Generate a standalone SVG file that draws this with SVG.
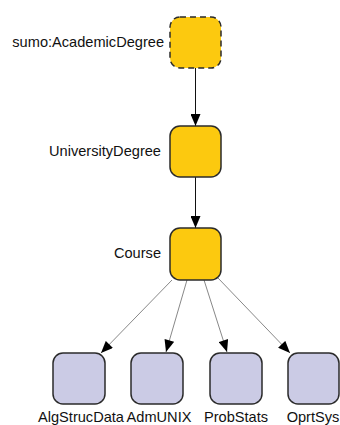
<svg xmlns="http://www.w3.org/2000/svg" width="340" height="425" viewBox="0 0 340 425">
<defs>
<marker id="arr" viewBox="0 0 12 10" refX="12" refY="5" markerWidth="13" markerHeight="10" markerUnits="userSpaceOnUse" orient="auto">
<path d="M0,0 L12,5 L0,10 Z" fill="#000"/>
</marker>
<style>
.lbl{font-family:"Liberation Sans",Arial,sans-serif;font-size:14.6px;fill:#111}
.gold{fill:#FCC90F;stroke:#2b2b2b;stroke-width:1.5}
.dash{stroke-dasharray:6,4}
.lav{fill:#CBCBE5;stroke:#2b2b2b;stroke-width:1.5}
.e{fill:none;stroke:#111;stroke-width:1;marker-end:url(#arr)}
.eg{fill:none;stroke:#888;stroke-width:1;marker-end:url(#arr)}
</style>
</defs>
<rect width="340" height="425" fill="#fff"/>
<g id="connectors">
<line class="e" x1="195.5" y1="68" x2="195.5" y2="126"/>
<line class="e" x1="195.5" y1="177" x2="195.5" y2="228"/>
<line class="eg" x1="172" y1="280" x2="101" y2="353"/>
<line class="eg" x1="187" y1="280" x2="166" y2="352"/>
<line class="eg" x1="204" y1="280" x2="227" y2="352"/>
<line class="eg" x1="218" y1="278" x2="290" y2="353"/>
</g>
<g id="academicDegree">
<rect class="gold dash" x="170" y="17" width="51" height="51" rx="10"/>
<text class="lbl" x="164" y="47" text-anchor="end">sumo:AcademicDegree</text>
</g>
<g id="universityDegree">
<rect class="gold" x="170" y="126" width="51" height="51" rx="10"/>
<text class="lbl" x="161" y="156" text-anchor="end">UniversityDegree</text>
</g>
<g id="course">
<rect class="gold" x="170" y="228" width="51" height="52" rx="10"/>
<text class="lbl" x="161" y="258" text-anchor="end">Course</text>
</g>
<g id="algStrucData">
<rect class="lav" x="53" y="353" width="52" height="51" rx="10"/>
<text class="lbl" x="81" y="422" text-anchor="middle">AlgStrucData</text>
</g>
<g id="admUNIX">
<rect class="lav" x="131" y="353" width="52" height="51" rx="10"/>
<text class="lbl" x="159" y="422" text-anchor="middle">AdmUNIX</text>
</g>
<g id="probStats">
<rect class="lav" x="210" y="353" width="52" height="51" rx="10"/>
<text class="lbl" x="236" y="422" text-anchor="middle">ProbStats</text>
</g>
<g id="oprtSys">
<rect class="lav" x="288" y="353" width="51" height="51" rx="10"/>
<text class="lbl" x="313" y="422" text-anchor="middle">OprtSys</text>
</g>
</svg>
